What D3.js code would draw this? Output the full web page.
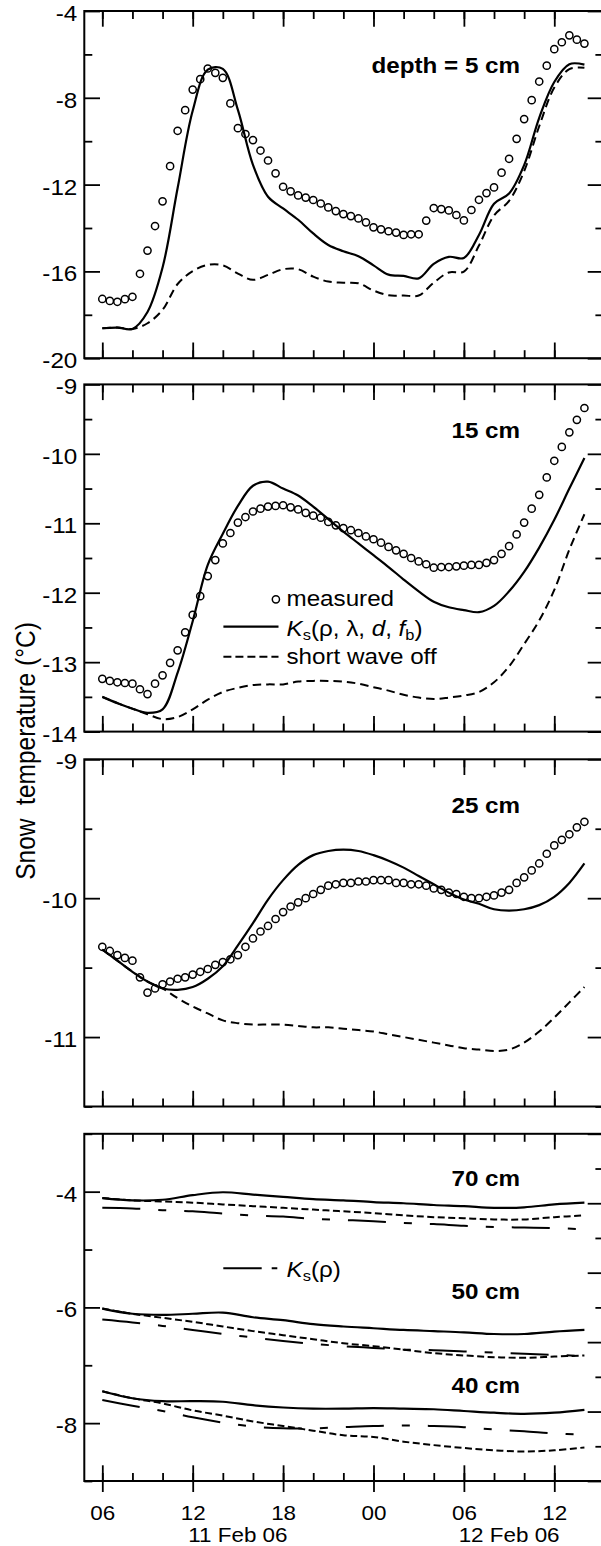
<!DOCTYPE html>
<html>
<head>
<meta charset="utf-8">
<script src="https://cdn.jsdelivr.net/npm/d3@7"></script>
<style>
  html, body { margin: 0; padding: 0; background: #fff; }
  svg { display: block; }
</style>
</head>
<body>
<svg id="chart" width="601" height="1546"></svg>
<script>
// time is in hours from 11 Feb 06, 06:00
const measHours = d3.range(0, 32.5, 0.5);
const modelHours = d3.range(0, 33, 1);
const deepHours = d3.range(0, 33, 2);

const xMajorHours = [0, 6, 12, 18, 24, 30];
const xMinorHours = d3.range(0, 31, 2);
const xTickLabels = ["06", "12", "18", "00", "06", "12"];
const dateLabels = ["11 Feb 06", "12 Feb 06"];
const dateLabelHours = [9, 27];

// depth = 5 cm
const meas5 = [-17.27,-17.36,-17.40,-17.28,-17.17,-16.11,-15.04,-13.91,-12.77,-11.15,
  -9.52,-8.57,-7.62,-7.14,-6.65,-6.85,-7.08,-8.26,-9.40,-9.67,
  -9.95,-10.43,-10.89,-11.48,-12.10,-12.31,-12.50,-12.60,-12.71,-12.87,
  -13.05,-13.22,-13.36,-13.45,-13.56,-13.74,-13.97,-14.06,-14.15,-14.21,
  -14.32,-14.29,-14.29,-13.66,-13.08,-13.13,-13.19,-13.40,-13.65,-13.17,
  -12.70,-12.39,-12.13,-11.45,-10.81,-9.89,-8.98,-8.11,-7.25,-6.52,
  -5.76,-5.44,-5.12,-5.32,-5.50];
const ks5 = [-18.62,-18.59,-18.65,-17.87,-15.82,-12.16,-8.60,-6.70,-6.67,-8.56,
  -11.09,-12.56,-13.10,-13.62,-14.25,-14.78,-15.07,-15.30,-15.72,-16.15,
  -16.21,-16.32,-15.65,-15.33,-15.38,-14.32,-12.88,-12.41,-11.10,-8.92,
  -7.27,-6.45,-6.47];
const swOff5 = [-18.62,-18.59,-18.65,-18.39,-17.77,-16.58,-15.99,-15.70,-15.72,-16.10,
  -16.39,-16.16,-15.90,-15.90,-16.24,-16.47,-16.52,-16.55,-16.88,-17.10,
  -17.11,-17.11,-16.52,-16.05,-16.01,-14.81,-13.42,-12.75,-11.38,-9.31,
  -7.53,-6.68,-6.62];

// 15 cm
const meas15 = [-13.24,-13.27,-13.29,-13.30,-13.31,-13.39,-13.46,-13.31,-13.19,-13.01,
  -12.83,-12.57,-12.32,-12.05,-11.76,-11.53,-11.29,-11.14,-10.99,-10.91,
  -10.83,-10.79,-10.76,-10.75,-10.74,-10.77,-10.80,-10.85,-10.89,-10.92,
  -10.98,-11.03,-11.07,-11.10,-11.14,-11.19,-11.23,-11.28,-11.34,-11.39,
  -11.44,-11.50,-11.55,-11.59,-11.64,-11.63,-11.63,-11.62,-11.61,-11.60,
  -11.60,-11.57,-11.53,-11.44,-11.33,-11.16,-10.99,-10.79,-10.59,-10.34,
  -10.10,-9.90,-9.69,-9.51,-9.34];
const ks15 = [-13.50,-13.59,-13.67,-13.73,-13.68,-13.15,-12.41,-11.60,-11.15,-10.75,
  -10.46,-10.40,-10.50,-10.60,-10.76,-10.94,-11.12,-11.29,-11.46,-11.63,
  -11.81,-11.98,-12.13,-12.21,-12.25,-12.28,-12.19,-11.98,-11.70,-11.35,
  -10.95,-10.50,-10.06];
const swOff15 = [-13.50,-13.59,-13.67,-13.75,-13.82,-13.79,-13.68,-13.54,-13.43,-13.37,
  -13.33,-13.32,-13.32,-13.28,-13.27,-13.27,-13.28,-13.31,-13.36,-13.41,
  -13.47,-13.51,-13.53,-13.51,-13.48,-13.43,-13.29,-13.06,-12.74,-12.40,
  -11.96,-11.38,-10.87];

// 25 cm
const meas25 = [-10.35,-10.38,-10.41,-10.43,-10.45,-10.57,-10.68,-10.65,-10.62,-10.60,
  -10.58,-10.57,-10.55,-10.53,-10.51,-10.48,-10.46,-10.44,-10.41,-10.35,
  -10.29,-10.24,-10.20,-10.15,-10.10,-10.06,-10.03,-10.00,-9.97,-9.94,
  -9.91,-9.90,-9.89,-9.89,-9.88,-9.88,-9.87,-9.87,-9.87,-9.89,
  -9.89,-9.90,-9.90,-9.91,-9.93,-9.94,-9.96,-9.97,-9.99,-10.00,
  -10.00,-9.99,-9.98,-9.96,-9.94,-9.89,-9.85,-9.80,-9.75,-9.68,
  -9.62,-9.58,-9.54,-9.49,-9.45];
const ks25 = [-10.37,-10.45,-10.53,-10.60,-10.65,-10.66,-10.64,-10.58,-10.49,-10.34,
  -10.18,-10.01,-9.87,-9.76,-9.69,-9.66,-9.65,-9.66,-9.69,-9.73,
  -9.78,-9.84,-9.90,-9.96,-10.01,-10.04,-10.08,-10.09,-10.08,-10.05,
  -9.99,-9.89,-9.75];
const swOff25 = [-10.37,-10.45,-10.53,-10.60,-10.65,-10.72,-10.78,-10.83,-10.88,-10.90,
  -10.91,-10.91,-10.91,-10.92,-10.93,-10.93,-10.94,-10.95,-10.96,-10.98,
  -11.00,-11.02,-11.04,-11.06,-11.08,-11.09,-11.10,-11.09,-11.04,-10.96,
  -10.86,-10.75,-10.64];

// 40, 50, 70 cm (every 2 h)
const ks70    = [-4.11,-4.15,-4.14,-4.06,-4.01,-4.05,-4.09,-4.13,-4.15,-4.18,-4.20,-4.23,-4.25,-4.28,-4.27,-4.22,-4.19];
const swOff70 = [-4.11,-4.15,-4.17,-4.19,-4.22,-4.25,-4.28,-4.31,-4.34,-4.37,-4.41,-4.44,-4.46,-4.48,-4.48,-4.44,-4.41];
const ksRho70 = [-4.28,-4.29,-4.32,-4.34,-4.38,-4.41,-4.43,-4.47,-4.49,-4.51,-4.54,-4.56,-4.59,-4.61,-4.62,-4.63,-4.65];
const ks50    = [-6.02,-6.11,-6.13,-6.11,-6.09,-6.17,-6.22,-6.29,-6.33,-6.36,-6.39,-6.41,-6.43,-6.46,-6.46,-6.42,-6.39];
const swOff50 = [-6.02,-6.11,-6.18,-6.25,-6.33,-6.41,-6.48,-6.55,-6.62,-6.67,-6.73,-6.79,-6.83,-6.86,-6.87,-6.85,-6.83];
const ksRho50 = [-6.21,-6.26,-6.32,-6.39,-6.46,-6.52,-6.58,-6.63,-6.67,-6.70,-6.73,-6.74,-6.76,-6.78,-6.80,-6.82,-6.84];
const ks40    = [-7.45,-7.57,-7.62,-7.62,-7.63,-7.69,-7.73,-7.75,-7.75,-7.74,-7.75,-7.76,-7.79,-7.82,-7.84,-7.82,-7.77];
const swOff40 = [-7.45,-7.57,-7.66,-7.78,-7.87,-7.97,-8.05,-8.13,-8.21,-8.24,-8.32,-8.38,-8.43,-8.47,-8.49,-8.47,-8.42];
const ksRho40 = [-7.60,-7.70,-7.79,-7.90,-7.99,-8.06,-8.09,-8.09,-8.07,-8.05,-8.04,-8.05,-8.07,-8.11,-8.14,-8.18,-8.20];

// y ticks
const yMajor5 = [-4, -8, -12, -16, -20], yMinor5 = [-6, -10, -14, -18];
const yMajor15 = [-9, -10, -11, -12, -13, -14], yMinor15 = [-9.5, -10.5, -11.5, -12.5, -13.5];
const yMajor25 = [-9, -10, -11], yMinor25 = [-9.5, -10.5, -11.5];
const yMajorDeep = [-4, -6, -8], yMinorDeep = [-3, -5, -7, -9];

const FONT = "'Liberation Sans', Arial, Helvetica, sans-serif";
const SX = 1.1;          // lettering in the original is slightly wide
const SXB = 1.15;        // time labels under the last panel are a little smaller, wider
const H = 347.2;
const MAJ = 15.7, MIN = 8;

const svg = d3.select("#chart");
const x = d3.scaleLinear().domain([-1.195, 33.26]).range([84.3, 603.4]);
const [x0, x1] = x.range();

function stretchText(parent, px, py, anchor, sx) {
  return parent.append("text")
    .attr("transform", `translate(${px},${py}) scale(${sx || SX},1)`)
    .attr("text-anchor", anchor || "start")
    .attr("font-family", FONT)
    .attr("font-size", 22)
    .attr("fill", "#000");
}

function addAxis(g, axis, tx, ty) {
  const a = g.append("g").attr("transform", `translate(${tx},${ty})`).call(axis);
  a.select(".domain").remove();
  a.selectAll(".tick line").attr("stroke", "#000").attr("stroke-width", 1.8);
  a.attr("font-family", FONT).attr("font-size", 22);
  return a;
}

function drawPanel(p) {
  const g = svg.append("g");
  const top = p.top, bottom = p.top + H;
  const y = d3.scaleLinear().domain(p.domain).range([bottom, top]);

  g.append("rect")
    .attr("x", x0).attr("y", top).attr("width", x1 - x0).attr("height", H)
    .attr("fill", "none").attr("stroke", "#000").attr("stroke-width", 2);

  // left axis with labels
  const left = addAxis(g, d3.axisLeft(y).tickValues(p.major).tickSize(-MAJ).tickPadding(7)
    .tickFormat(d => String(d)), x0, 0);
  left.selectAll(".tick text")
    .attr("transform", `scale(${SX},1)`).attr("x", -7 / SX).attr("dy", "0.43em").attr("fill", "#000");
  addAxis(g, d3.axisLeft(y).tickValues(p.minor).tickSize(-MIN).tickFormat(""), x0, 0);

  // right axis (no labels)
  const yR = p.rightDomain ? d3.scaleLinear().domain(p.rightDomain).range([bottom, top]) : y;
  addAxis(g, d3.axisRight(yR).tickValues(p.rightMajor || p.major).tickSize(-MAJ).tickFormat(""), x1, 0);
  addAxis(g, d3.axisRight(yR).tickValues(p.rightMinor || p.minor).tickSize(-MIN).tickFormat(""), x1, 0);

  // top and bottom time ticks
  addAxis(g, d3.axisTop(x).tickValues(xMajorHours).tickSize(-MAJ).tickFormat(""), 0, top);
  addAxis(g, d3.axisTop(x).tickValues(xMinorHours).tickSize(-MIN).tickFormat(""), 0, top);
  addAxis(g, d3.axisBottom(x).tickValues(xMajorHours).tickSize(-MAJ).tickFormat(""), 0, bottom);
  addAxis(g, d3.axisBottom(x).tickValues(xMinorHours).tickSize(-MIN).tickFormat(""), 0, bottom);

  if (p.timeLabels) {
    addAxis(g, d3.axisBottom(x).tickValues(xMajorHours).tickSize(11).tickFormat(""), 0, bottom);
    const lab = addAxis(g, d3.axisBottom(x).tickValues(xMajorHours).tickSize(0).tickPadding(0)
      .tickFormat((d, i) => xTickLabels[i]), 0, bottom);
    lab.attr("font-size", 19.5);
    lab.selectAll(".tick text")
      .attr("transform", `scale(${SXB},1)`).attr("y", 39).attr("dy", null).attr("fill", "#000");
    dateLabels.forEach((s, i) => {
      stretchText(g, x(dateLabelHours[i]), bottom + 60.8, "middle", SXB)
        .attr("font-size", 19.5).text(s);
    });
  }

  const line = (hours) => d3.line()
    .x((d, i) => x(hours[i]))
    .y(d => y(d))
    .curve(d3.curveCatmullRom);

  p.series.forEach(s => {
    g.append("path")
      .attr("d", line(s.hours)(s.values))
      .attr("fill", "none").attr("stroke", "#000")
      .attr("stroke-width", s.width || 2)
      .attr("stroke-dasharray", s.dash || null);
  });

  if (p.measured) {
    g.append("g").selectAll("circle")
      .data(p.measured)
      .join("circle")
      .attr("cx", (d, i) => x(measHours[i]))
      .attr("cy", d => y(d))
      .attr("r", 3.6)
      .attr("fill", "none").attr("stroke", "#000").attr("stroke-width", 1.5);
  }

  p.labels.forEach(l => {
    stretchText(g, 520, l.y, "end").attr("font-weight", "bold").text(l.text);
  });
  return g;
}

const DASH = "8.5,5", DASH_DEEP = "7,3.5", DASH_RHO = "38,18,8,18";

drawPanel({
  top: 11, domain: [-20, -4], major: yMajor5, minor: yMinor5,
  measured: meas5,
  series: [
    { hours: modelHours, values: swOff5, dash: DASH },
    { hours: modelHours, values: ks5, width: 2.2 }
  ],
  labels: [{ text: "depth = 5 cm", y: 72.5 }]
});

const p2 = drawPanel({
  top: 384.4, domain: [-14, -9], major: yMajor15, minor: yMinor15,
  measured: meas15,
  series: [
    { hours: modelHours, values: swOff15, dash: DASH },
    { hours: modelHours, values: ks15, width: 2.2 }
  ],
  labels: [{ text: "15 cm", y: 438.3 }]
});

drawPanel({
  top: 759.3, domain: [-11.5, -9], major: yMajor25, minor: yMinor25,
  measured: meas25,
  series: [
    { hours: modelHours, values: swOff25, dash: DASH },
    { hours: modelHours, values: ks25, width: 2.2 }
  ],
  labels: [{ text: "25 cm", y: 813.3 }]
});

const p4 = drawPanel({
  top: 1133.8, domain: [-9, -3], major: yMajorDeep, minor: yMinorDeep,
  // right-hand ticks of the lowest panel follow the 15 cm spacing
  rightDomain: [-14, -9], rightMajor: yMajor15, rightMinor: yMinor15,
  timeLabels: true,
  series: [
    { hours: deepHours, values: ksRho70, dash: DASH_RHO },
    { hours: deepHours, values: swOff70, dash: DASH_DEEP },
    { hours: deepHours, values: ks70, width: 2.2 },
    { hours: deepHours, values: ksRho50, dash: DASH_RHO },
    { hours: deepHours, values: swOff50, dash: DASH_DEEP },
    { hours: deepHours, values: ks50, width: 2.2 },
    { hours: deepHours, values: ksRho40, dash: DASH_RHO },
    { hours: deepHours, values: swOff40, dash: DASH_DEEP },
    { hours: deepHours, values: ks40, width: 2.2 }
  ],
  labels: [
    { text: "70 cm", y: 1186 },
    { text: "50 cm", y: 1299.3 },
    { text: "40 cm", y: 1393.3 }
  ]
});

// legend, 15 cm panel
p2.append("circle").attr("cx", 275.9).attr("cy", 599.3).attr("r", 3.6)
  .attr("fill", "none").attr("stroke", "#000").attr("stroke-width", 1.5);
stretchText(p2, 286.5, 606).text("measured");
p2.append("line").attr("x1", 223.4).attr("x2", 278.5).attr("y1", 626.7).attr("y2", 626.7)
  .attr("stroke", "#000").attr("stroke-width", 2.2);
const ksLab = stretchText(p2, 286.5, 636);
ksLab.append("tspan").attr("font-style", "italic").text("K");
ksLab.append("tspan").attr("font-size", 15).attr("dy", 4).text("s");
ksLab.append("tspan").attr("dy", -4).text("(\u03c1, \u03bb, ");
ksLab.append("tspan").attr("font-style", "italic").text("d");
ksLab.append("tspan").text(", ");
ksLab.append("tspan").attr("font-style", "italic").text("f");
ksLab.append("tspan").attr("font-size", 15).attr("dy", 4).text("b");
ksLab.append("tspan").attr("dy", -4).text(")");
p2.append("line").attr("x1", 223.4).attr("x2", 278.5).attr("y1", 656.7).attr("y2", 656.7)
  .attr("stroke", "#000").attr("stroke-width", 2).attr("stroke-dasharray", "8,4");
stretchText(p2, 286.5, 664).text("short wave off");

// legend, deep panel
p4.append("line").attr("x1", 223.3).attr("x2", 277.3).attr("y1", 1268.3).attr("y2", 1268.3)
  .attr("stroke", "#000").attr("stroke-width", 2).attr("stroke-dasharray", "38.4,10,5.6,100");
const rhoLab = stretchText(p4, 286.5, 1276.7);
rhoLab.append("tspan").attr("font-style", "italic").text("K");
rhoLab.append("tspan").attr("font-size", 15).attr("dy", 4).text("s");
rhoLab.append("tspan").attr("dy", -4).text("(\u03c1)");

// y title
svg.append("text")
  .attr("transform", `translate(34.5,751) scale(${SX},1) rotate(-90)`)
  .attr("text-anchor", "middle")
  .attr("font-family", FONT).attr("font-size", 24.5).attr("fill", "#000")
  .attr("xml:space", "preserve")
  .text("Snow\u00a0\u00a0temperature (\u00b0C)");
</script>
</body>
</html>
